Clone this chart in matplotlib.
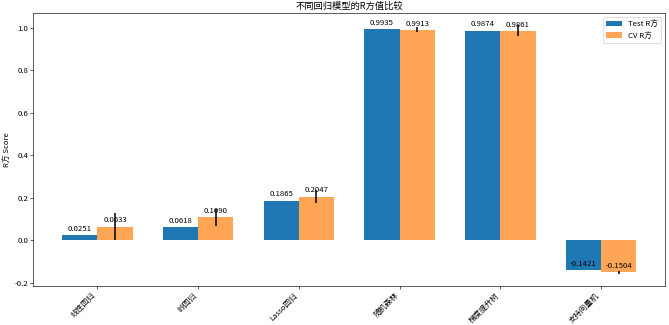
import matplotlib
matplotlib.use('Agg')
import matplotlib.pyplot as plt
import numpy as np

plt.rcParams['font.family'] = ['Noto Sans CJK SC', 'DejaVu Sans']
plt.rcParams['axes.unicode_minus'] = False

models = ['线性回归', '岭回归', 'Lasso回归', '随机森林', '梯度提升树', '支持向量机']
test_r2 = [0.0251, 0.0618, 0.1865, 0.9935, 0.9874, -0.1421]
cv_r2 = [0.0633, 0.1090, 0.2047, 0.9913, 0.9861, -0.1504]
cv_std = [0.064, 0.04, 0.03, 0.012, 0.026, 0.007]

x = np.arange(len(models))
width = 0.35

fig, ax = plt.subplots(figsize=(12, 5.83), dpi=55.75)
b1 = ax.bar(x - width/2, test_r2, width, label='Test R方', color='#1f77b4')
b2 = ax.bar(x + width/2, cv_r2, width, yerr=cv_std, label='CV R方',
            color='#ff7f0e', alpha=0.7, error_kw={'ecolor': 'black', 'elinewidth': 2})

for bars in (b1, b2):
    for rect in bars:
        h = rect.get_height()
        ax.annotate(f'{h:.4f}', xy=(rect.get_x() + rect.get_width()/2, h),
                    xytext=(0, 3), textcoords='offset points',
                    ha='center', va='bottom', fontsize=10)

ax.set_ylabel('R方 Score')
ax.set_title('不同回归模型的R方值比较')
ax.set_xticks(x)
ax.set_xticklabels(models, rotation=45, ha='right')
ax.legend(loc='upper right')

fig.subplots_adjust(left=0.05, right=0.994, top=0.96, bottom=0.12)
fig.savefig('out.png', dpi=55.75)
